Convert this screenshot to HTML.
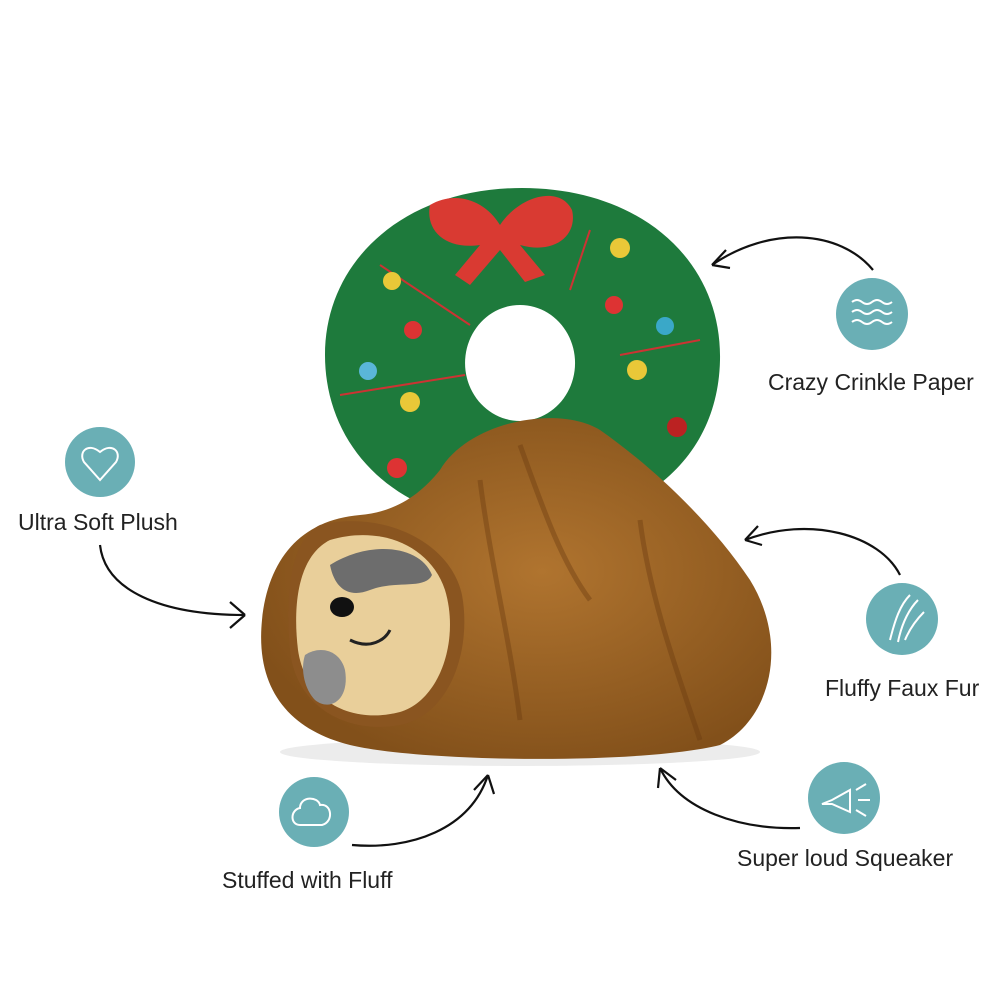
<!DOCTYPE html>
<html><head><meta charset="utf-8"><style>
html,body{margin:0;padding:0;background:#fff;width:1000px;height:1000px;overflow:hidden}
svg{display:block}
text{font-family:"Liberation Sans Narrow","Liberation Sans",sans-serif;font-size:23px;fill:#222}
</style></head><body>
<svg width="1000" height="1000" viewBox="0 0 1000 1000">
<defs>
<radialGradient id="fur" cx="0.55" cy="0.45" r="0.6"><stop offset="0" stop-color="#b0742f"/><stop offset="1" stop-color="#82501a"/></radialGradient>
</defs>
<ellipse cx="520" cy="752" rx="240" ry="14" fill="#ececec"/>
<path fill-rule="evenodd" fill="#1e7a3c" d="M522,188 C640,188 722,260 720,360 C718,460 640,525 522,525 C400,525 325,450 325,355 C325,260 405,188 522,188 Z M520,305 a55,58 0 1,0 0.1,0 Z"/>
<path fill="#d93a32" d="M430,205 C455,190 485,200 500,225 C520,195 560,185 572,210 C578,235 555,255 520,245 L545,275 L525,282 L500,250 L470,285 L455,275 L480,245 C445,250 425,230 430,205Z"/>
<path d="M380,265 L470,325 M590,230 L570,290 M620,355 L700,340 M340,395 L465,375" stroke="#c33" stroke-width="2" fill="none"/>
<g>
<circle cx="392" cy="281" r="9" fill="#e9c838"/><circle cx="413" cy="330" r="9" fill="#d33"/>
<circle cx="368" cy="371" r="9" fill="#5ab6d8"/><circle cx="410" cy="402" r="10" fill="#e9c838"/>
<circle cx="397" cy="468" r="10" fill="#d33"/><circle cx="620" cy="248" r="10" fill="#e9c838"/>
<circle cx="614" cy="305" r="9" fill="#d33"/><circle cx="665" cy="326" r="9" fill="#3aa8c8"/>
<circle cx="637" cy="370" r="10" fill="#e9c838"/><circle cx="677" cy="427" r="10" fill="#b22"/>
</g>
<path fill="url(#fur)" d="M440,470 C470,420 560,405 600,430 C650,465 710,520 750,580 C790,645 770,720 720,745 C640,765 420,762 350,745 C290,730 255,690 262,620 C268,560 300,520 360,515 C395,512 420,495 440,470Z"/>
<path d="M520,445 C540,500 560,560 590,600 M480,480 C490,560 510,640 520,720 M640,520 C650,600 680,680 700,740" stroke="#6a3a10" stroke-width="5" fill="none" opacity="0.4"/>
<path fill="#8a5520" d="M320,525 C380,510 450,540 462,595 C472,650 450,715 400,725 C345,735 295,705 290,650 C285,595 290,540 320,525Z"/>
<path fill="#e9cf9a" d="M330,540 C380,525 430,545 445,590 C460,640 440,700 400,712 C350,725 305,700 298,650 C292,600 300,555 330,540Z"/>
<path fill="#6d6d6d" d="M330,565 C370,540 420,545 432,575 C425,590 395,580 370,590 C350,598 335,590 330,565Z"/>
<path fill="#8d8d8d" d="M305,655 C320,645 340,650 345,670 C350,700 330,712 315,700 C305,690 300,670 305,655Z"/>
<ellipse cx="342" cy="607" rx="12" ry="10" fill="#111"/>
<path d="M350,640 C370,650 385,640 390,630" stroke="#222" stroke-width="3" fill="none"/>
<g fill="#6aafb5">
<circle cx="100" cy="462" r="35"/><circle cx="872" cy="314" r="36"/>
<circle cx="902" cy="619" r="36"/><circle cx="314" cy="812" r="35"/><circle cx="844" cy="798" r="36"/>
</g>
<g stroke="#fff" stroke-width="2" fill="none">
<path d="M100,480 L84,462 C78,452 88,442 100,452 C112,442 122,452 116,462 Z"/>
<path d="M852,302 q5,-4 10,0 t10,0 t10,0 t10,0 M852,312 q5,-4 10,0 t10,0 t10,0 t10,0 M852,322 q5,-4 10,0 t10,0 t10,0 t10,0"/>
<path d="M890,640 C895,620 900,605 910,595 M898,642 C902,622 910,608 918,600 M905,640 C910,628 918,618 924,612"/>
<path d="M300,825 C290,825 290,810 300,808 C300,796 318,796 320,805 C332,803 334,822 322,825 Z"/>
<path d="M822,804 L832,800 L850,790 L850,812 L832,804 Z M856,790 L866,784 M858,800 L870,800 M856,810 L866,816"/>
</g>
<g stroke="#111" stroke-width="2.2" fill="none">
<path d="M873,270 C840,230 770,225 712,265"/><path d="M712,265 L726,250 M712,265 L730,268"/>
<path d="M900,575 C880,535 810,515 745,540"/><path d="M745,540 L758,526 M745,540 L762,545"/>
<path d="M100,545 C105,590 160,615 245,615"/><path d="M245,615 L230,602 M245,615 L230,628"/>
<path d="M352,845 C410,850 470,830 488,775"/><path d="M488,775 L474,790 M488,775 L494,794"/>
<path d="M800,828 C740,830 680,810 660,768"/><path d="M660,768 L658,788 M660,768 L676,780"/>
</g>
<text x="768" y="390">Crazy Crinkle Paper</text>
<text x="18" y="530">Ultra Soft Plush</text>
<text x="825" y="696">Fluffy Faux Fur</text>
<text x="222" y="888">Stuffed with Fluff</text>
<text x="737" y="866">Super loud Squeaker</text>
</svg>
</body></html>
